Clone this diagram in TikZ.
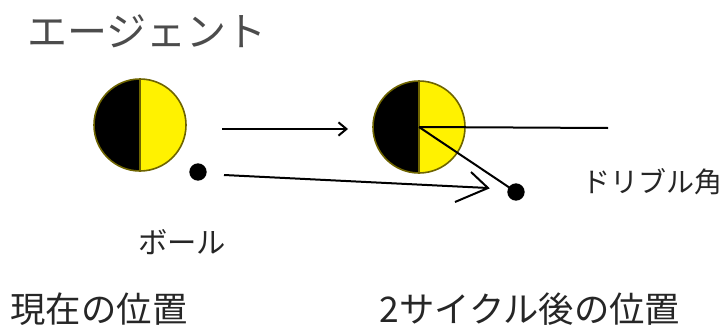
\documentclass[tikz,border=0pt]{standalone}
\usepackage{fontspec}
\newfontfamily\jp{Noto Sans CJK JP}
\usetikzlibrary{arrows.meta}
\definecolor{agentedge}{RGB}{110,100,0}
\tikzset{
  agent/.style={circle, draw=agentedge, fill=yellow, line width=1.2pt, minimum size=69pt, inner sep=0pt,
    path picture={\fill[black] (path picture bounding box.south west) rectangle (path picture bounding box.north);}},
  ballnode/.style={circle, fill=black, minimum size=13pt, inner sep=0pt},
  lbl/.style={font=\jp\fontsize{#1}{#1}\selectfont, text=black!85, inner sep=0pt},
  ln/.style={line width=1.5pt, black},
}
\begin{document}
\begin{tikzpicture}[x=0.75pt,y=-0.75pt]
\useasboundingbox (0,0) rectangle (724,332);
\fill[white] (0,0) rectangle (724,332);
% agents
\node[agent] (a1) at (140,125) {};
\node[agent] (a2) at (419,127) {};
\draw[agentedge, line width=1pt] (a1.north) -- (a1.south);
\draw[agentedge, line width=1pt] (a2.north) -- (a2.south);
% balls
\node[ballnode] (b1) at (198,172) {};
\node[ballnode] (b2) at (516,192) {};
% lines of the second agent
\coordinate (hend) at (608,128);
\draw[ln] (a2.center) -- (hend);
\draw[ln] (a2.center) -- (b2.center);
% movement arrows
\coordinate (t1s) at (222,129);
\coordinate (t1e) at (348,129);
\draw[ln, -{Straight Barb[length=6pt,width=10pt]}] (t1s) -- (t1e);
\coordinate (t2s) at (224,175);
\coordinate (t2e) at (488,188);
\coordinate (bu) at (471,172);
\coordinate (bl) at (455,202);
\draw[ln] (t2s) -- (t2e);
\draw[ln] (bu) -- (t2e) -- (bl);
% texts
\node[lbl=30pt, text=black!70] (title) at (147,31) {エージェント};
\node[lbl=22pt] (ball) at (182,242) {ボール};
\node[lbl=21pt] (angle) at (652,182) {ドリブル角};
\node[lbl=26.5pt] (now) at (99,309) {現在の位置};
\node[lbl=26.5pt] (later) at (530,309) {2サイクル後の位置};
\end{tikzpicture}
\end{document}
